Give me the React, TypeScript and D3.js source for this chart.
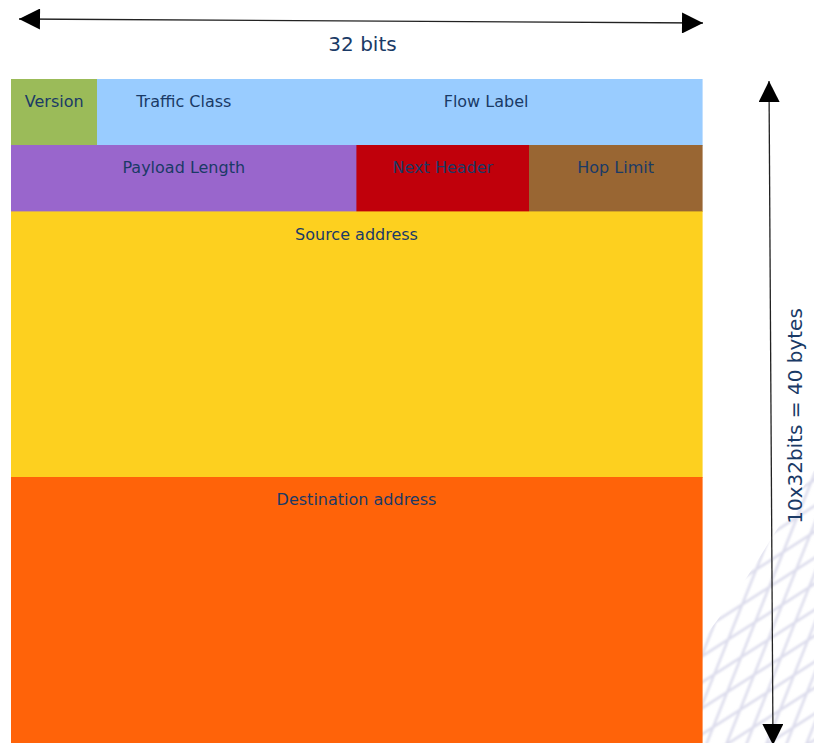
import * as d3 from "d3";
import { useEffect, useRef } from "react";

// IPv6 header fields: row (32-bit words), start bit, width in bits
const fieldNames = ["Version", "Traffic Class", "Flow Label", "Payload Length", "Next Header", "Hop Limit", "Source address", "Destination address"];
const fieldRows = [0, 0, 0, 1, 1, 1, 2, 6];
const fieldRowSpan = [1, 1, 1, 1, 1, 1, 4, 4];
const fieldStart = [0, 4, 12, 0, 16, 24, 0, 0];
const fieldBits = [4, 8, 20, 16, 8, 8, 32, 32];
const fieldColors = ["#9bbb59", "#99ccff", "#99ccff", "#9966cc", "#c0000b", "#996633", "#fdd01f", "#ff6309"];

const widthLabel = "32 bits";
const heightLabel = "10x32bits = 40 bytes";
const totalBits = 32;
const totalWords = 10;

const W = 814;
const H = 743;

export default function App() {
  const svgRef = useRef<SVGSVGElement>(null);

  useEffect(() => {
    const svg = d3.select(svgRef.current);
    svg.selectAll("*").remove();

    const x = d3.scaleLinear().domain([0, totalBits]).range([11, 702]);
    const y = d3.scaleLinear().domain([0, totalWords]).range([79, 743]);
    const textColor = "#1a3a66";

    // background mesh decoration (bottom right)
    const defs = svg.append("defs");
    defs
      .append("clipPath")
      .attr("id", "meshClip")
      .append("path")
      .attr("d", "M702,743 L702,640 C735,600 770,540 814,470 L814,743 Z");
    const blur = defs.append("filter").attr("id", "soft");
    blur.append("feGaussianBlur").attr("stdDeviation", 1);

    const mesh = svg.append("g").attr("clip-path", "url(#meshClip)").attr("filter", "url(#soft)");
    d3.range(-12, 14).forEach((i) => {
      mesh
        .append("line")
        .attr("x1", 640 + i * 20)
        .attr("y1", 760)
        .attr("x2", 760 + i * 20)
        .attr("y2", 460)
        .attr("stroke", "#dcdcec")
        .attr("stroke-width", 2.5);
      mesh
        .append("line")
        .attr("x1", 690)
        .attr("y1", 560 + i * 26)
        .attr("x2", 830)
        .attr("y2", 470 + i * 26)
        .attr("stroke", "#dcdcec")
        .attr("stroke-width", 2.5);
    });

    // header fields
    const idx = d3.range(fieldNames.length);
    svg
      .append("g")
      .attr("shape-rendering", "crispEdges")
      .selectAll("rect")
      .data(idx)
      .join("rect")
      .attr("x", (i) => x(fieldStart[i]))
      .attr("y", (i) => y(fieldRows[i]))
      .attr("width", (i) => x(fieldStart[i] + fieldBits[i]) - x(fieldStart[i]))
      .attr("height", (i) => y(fieldRows[i] + fieldRowSpan[i]) - y(fieldRows[i]))
      .attr("fill", (i) => fieldColors[i])
      .attr("stroke", (i) => fieldColors[i])
      .attr("stroke-width", 0.6);

    svg
      .append("g")
      .selectAll("text")
      .data(idx)
      .join("text")
      .attr("x", (i) => x(fieldStart[i] + fieldBits[i] / 2))
      .attr("y", (i) => y(fieldRows[i]) + 28)
      .attr("text-anchor", "middle")
      .attr("font-family", "DejaVu Sans, sans-serif")
      .attr("font-size", 16)
      .attr("fill", textColor)
      .text((i) => fieldNames[i]);

    // arrowhead marker
    defs
      .append("marker")
      .attr("id", "arrow")
      .attr("viewBox", "0 0 10 10")
      .attr("refX", 10)
      .attr("refY", 5)
      .attr("markerWidth", 30)
      .attr("markerHeight", 21)
      .attr("markerUnits", "userSpaceOnUse")
      .attr("orient", "auto-start-reverse")
      .append("path")
      .attr("d", "M0,0 L10,5 L0,10 Z")
      .attr("fill", "#000");

    // width arrow
    svg
      .append("line")
      .attr("x1", 19)
      .attr("y1", 19)
      .attr("x2", 703)
      .attr("y2", 23)
      .attr("stroke", "#222")
      .attr("stroke-width", 1.3)
      .attr("marker-start", "url(#arrow)")
      .attr("marker-end", "url(#arrow)");
    svg
      .append("text")
      .attr("x", (x(0) + x(totalBits)) / 2 + 6)
      .attr("y", 51)
      .attr("text-anchor", "middle")
      .attr("font-family", "DejaVu Sans, sans-serif")
      .attr("font-size", 20)
      .attr("fill", textColor)
      .text(widthLabel);

    // height arrow
    svg
      .append("line")
      .attr("x1", 769)
      .attr("y1", 81)
      .attr("x2", 773)
      .attr("y2", 745)
      .attr("stroke", "#222")
      .attr("stroke-width", 1.3)
      .attr("marker-start", "url(#arrow)")
      .attr("marker-end", "url(#arrow)");
    svg
      .append("text")
      .attr("transform", `translate(802, ${(y(0) + y(totalWords)) / 2 + 5}) rotate(-90)`)
      .attr("text-anchor", "middle")
      .attr("font-family", "DejaVu Sans, sans-serif")
      .attr("font-size", 20)
      .attr("fill", textColor)
      .text(heightLabel);
  }, []);

  return (
    <svg
      ref={svgRef}
      width={W}
      height={H}
      style={{ position: "absolute", left: 0, top: 0, background: "#fff" }}
    />
  );
}
